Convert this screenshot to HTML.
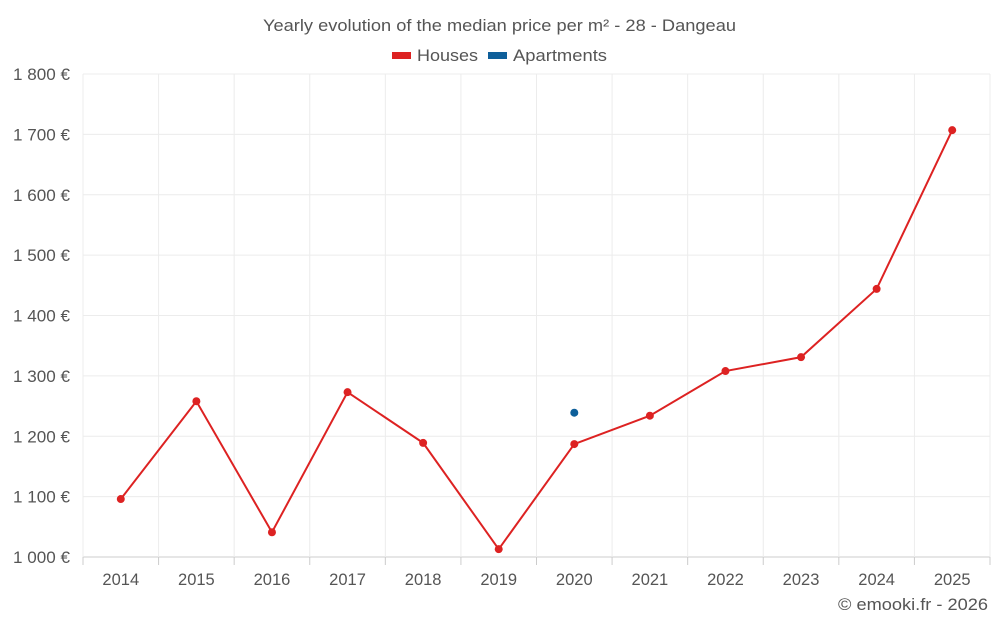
<!DOCTYPE html>
<html><head><meta charset="utf-8"><style>
body{margin:0;background:#fff;font-family:"Liberation Sans",sans-serif;}
svg text{font-family:"Liberation Sans",sans-serif;}
</style></head><body>
<svg id="c" width="1000" height="625">
<text x="263" y="31" textLength="473" lengthAdjust="spacingAndGlyphs" font-size="16.5" fill="#555">Yearly evolution of the median price per m² - 28 - Dangeau</text>
<g>
<g><rect x="392" y="52" width="19" height="7" fill="#dd2222"/><text x="417" y="61" textLength="61" lengthAdjust="spacingAndGlyphs" font-size="16.5" fill="#555">Houses</text></g>
<g><rect x="488" y="52" width="19" height="7" fill="#0e5f9a"/><text x="513" y="61" textLength="94" lengthAdjust="spacingAndGlyphs" font-size="16.5" fill="#555">Apartments</text></g>
</g>
<g id="grid"></g><g id="marks"></g>
<text x="838" y="610" textLength="150" lengthAdjust="spacingAndGlyphs" font-size="16.5" fill="#555">© emooki.fr - 2026</text>
</svg>
<script>
const years=[2014,2015,2016,2017,2018,2019,2020,2021,2022,2023,2024,2025];
const houses=[1096,1258,1041,1273,1189,1013,1187,1234,1308,1331,1444,1707];
const apartments=[null,null,null,null,null,null,1239,null,null,null,null,null];
const yTicks=[1000,1100,1200,1300,1400,1500,1600,1700,1800];
const NS="http://www.w3.org/2000/svg";
const L=83,R=990,T=74,B=557,ymin=1000,ymax=1800;
const bw=(R-L)/years.length;
const xs=i=>L+bw*(i+0.5);
const ys=v=>B-(v-ymin)/(ymax-ymin)*(B-T);
function mk(t,a,p){const e=document.createElementNS(NS,t);for(const k in a)e.setAttribute(k,a[k]);p.appendChild(e);return e;}
const g=document.getElementById('grid'),m=document.getElementById('marks');
yTicks.forEach(v=>{
 const l=mk('line',{x1:L,x2:R,y1:ys(v),y2:ys(v),stroke:v===ymin?'#ccc':'#ececec','stroke-width':1},g);
 
 
 const t=mk('text',{x:70,y:ys(v)+6,'text-anchor':'end','font-size':16.5,fill:'#555',textLength:57,lengthAdjust:'spacingAndGlyphs'},g);
 t.textContent=(v>=1000?Math.floor(v/1000)+' '+String(v%1000).padStart(3,'0'):v)+' €';
 
 
});
for(let i=0;i<=years.length;i++){
 const x=L+bw*i;
 const l=mk('line',{x1:x,x2:x,y1:T,y2:B,stroke:'#ececec'},g);
 
 
 const tk=mk('line',{x1:x,x2:x,y1:B,y2:B+8,stroke:'#ccc'},g);
 
 
}
years.forEach((y,i)=>{
 const t=mk('text',{x:xs(i),y:585,'text-anchor':'middle','font-size':16.5,fill:'#555'},g);
 t.textContent=y;
 
 
});
const pl=mk('polyline',{points:houses.map((v,i)=>xs(i)+','+ys(v)).join(' '),fill:'none',stroke:'#dd2222','stroke-width':2},m);


houses.forEach((v,i)=>{
 const c=mk('circle',{cx:xs(i),cy:ys(v),r:4,fill:'#dd2222'},m);
 
 
});
apartments.forEach((v,i)=>{
 if(v==null)return;
 const c=mk('circle',{cx:xs(i),cy:ys(v),r:4,fill:'#0e5f9a'},m);
 
 
});
</script>
</body></html>
